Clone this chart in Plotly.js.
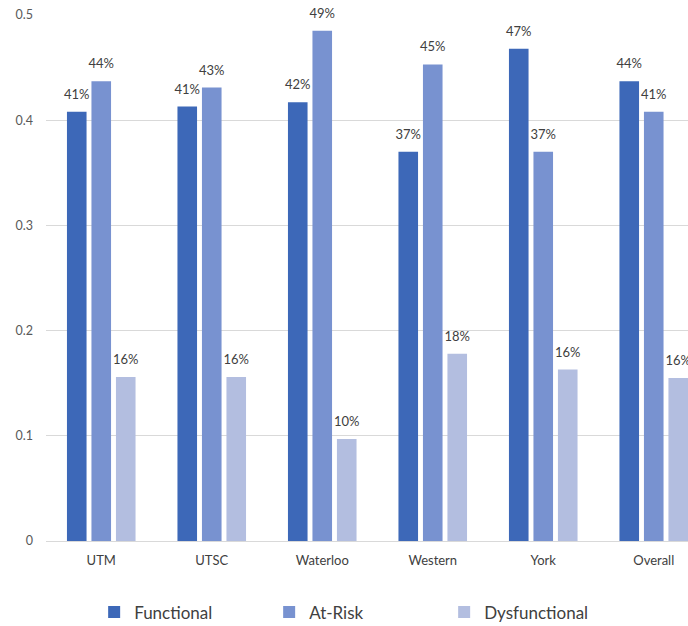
<!DOCTYPE html>
<html>
<head>
<meta charset="utf-8">
<script src="https://cdn.plot.ly/plotly-3.0.1.min.js"></script>
<style>html,body{margin:0;padding:0;overflow:hidden;background:#fff}</style>
</head>
<body>
<div id="chart" style="width:688px;height:626px"></div>
<script>
const categories = ["UTM", "UTSC", "Waterloo", "Western", "York", "Overall"];
const functional = [0.408, 0.413, 0.417, 0.370, 0.468, 0.437];
const atRisk = [0.437, 0.431, 0.485, 0.453, 0.370, 0.408];
const dysfunctional = [0.156, 0.156, 0.097, 0.178, 0.163, 0.155];
const seriesNames = ["Functional", "At-Risk", "Dysfunctional"];
const colors = ["#3D68B8", "#7892D0", "#B3BEE0"];
const yTicks = [0, 0.1, 0.2, 0.3, 0.4, 0.5];

const series = [functional, atRisk, dysfunctional];
const barTraces = series.map((vals, i) => ({
  type: "bar",
  name: seriesNames[i],
  x: categories,
  y: vals,
  marker: {color: colors[i]},
  cliponaxis: false,
  hoverinfo: "skip"
}));
const labelTraces = series.map((vals, i) => ({
  type: "scatter",
  mode: "markers+text",
  name: seriesNames[i] + " labels",
  showlegend: false,
  x: categories,
  y: vals,
  texttemplate: "%{y:.0%}",
  textposition: "top center",
  marker: {size: 14, opacity: 0, color: "rgba(0,0,0,0)"},
  textfont: {family: "Lato, sans-serif", size: 13, color: "#404040"},
  cliponaxis: false,
  hoverinfo: "skip"
}));

const layout = {
  width: 688,
  height: 626,
  margin: {l: 46, r: 0, t: 15, b: 85, autoexpand: false},
  paper_bgcolor: "#fff",
  plot_bgcolor: "#fff",
  font: {family: "Lato, sans-serif", color: "#404040"},
  barmode: "group",
  bargap: 0.335,
  bargroupgap: 0.2,
  scattermode: "group",
  scattergap: 0.335,
  showlegend: true,
  legend: {
    orientation: "h",
    x: 0.075, xanchor: "left",
    y: -0.136, yanchor: "middle",
    font: {family: "Lato, sans-serif", size: 17, color: "#404040"},
    entrywidth: 130, entrywidthmode: "pixels",
    traceorder: "normal"
  },
  xaxis: {
    type: "category",
    range: [-0.5, 5.31],
    showgrid: false,
    zeroline: false,
    showline: false,
    ticks: "outside",
    ticklen: 7,
    tickcolor: "rgba(0,0,0,0)",
    tickfont: {family: "Lato, sans-serif", size: 13, color: "#404040"},
    fixedrange: true
  },
  yaxis: {
    range: [0, 0.5],
    tickvals: yTicks,
    ticktext: yTicks.map(v => String(v)),
    showgrid: true,
    gridcolor: "#D9D9D9",
    gridwidth: 1,
    zeroline: true,
    zerolinecolor: "#D9D9D9",
    zerolinewidth: 1,
    showline: false,
    ticks: "",
    ticklabelstandoff: 12,
    tickfont: {family: "Lato, sans-serif", size: 12.5, color: "#595959"},
    fixedrange: true
  }
};

Plotly.newPlot("chart", barTraces.concat(labelTraces), layout, {displayModeBar: false, staticPlot: true});
</script>
</body>
</html>
